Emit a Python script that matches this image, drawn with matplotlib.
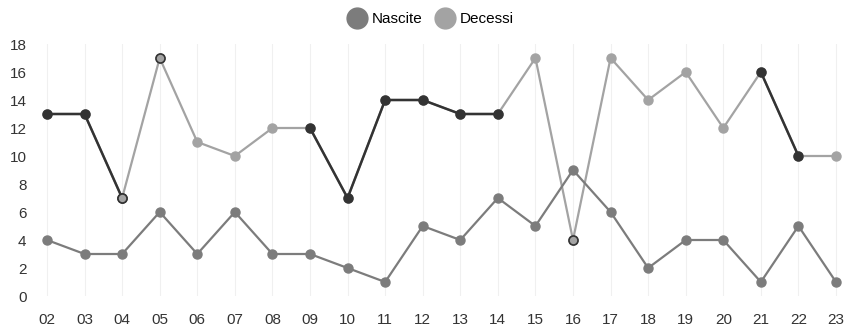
import numpy as np
import matplotlib
matplotlib.use("Agg")
import matplotlib.pyplot as plt
from matplotlib.lines import Line2D

plt.rcParams['font.family'] = ['Liberation Sans', 'DejaVu Sans']

# data
labels = ["02", "03", "04", "05", "06", "07", "08", "09", "10", "11", "12",
          "13", "14", "15", "16", "17", "18", "19", "20", "21", "22", "23"]
nascite = [4, 3, 3, 6, 3, 6, 3, 3, 2, 1, 5, 4, 7, 5, 9, 6, 2, 4, 4, 1, 5, 1]
decessi = [13, 13, 7, 17, 11, 10, 12, 12, 7, 14, 14, 13, 13, 17, 4, 17, 14, 16, 12, 16, 10, 10]
# stretches of the Decessi line that came out dark in the print (start, end index)
dark_runs = [(0, 2), (7, 12), (19, 20)]
dark_points = [2, 3, 14]

c_nasc = "#7c7c7c"
c_dec = "#a3a3a3"
c_dark = "#333333"

fig = plt.figure(figsize=(8.51, 3.31), dpi=100)
ax = fig.add_axes([37.6 / 851, 35 / 331, (845.4 - 37.6) / 851, (296 - 44) / 331])

x = np.arange(len(labels))
ax.plot(x, decessi, color=c_dec, lw=1.6, marker="o", ms=6.5, mec=c_dec, mfc=c_dec,
        clip_on=False, zorder=3)
ax.plot(x, nascite, color=c_nasc, lw=1.6, marker="o", ms=6.5, mec=c_nasc, mfc=c_nasc,
        clip_on=False, zorder=3)

for a, b in dark_runs:
    ax.plot(x[a:b + 1], decessi[a:b + 1], color=c_dark, lw=1.8, marker="o", ms=6.5,
            mec=c_dark, mfc=c_dark, clip_on=False, zorder=4)
for i in dark_points:
    ax.plot(x[i], decessi[i], marker="o", ms=6.5, mec=c_dark, mfc=c_dec,
            mew=1.2, clip_on=False, zorder=5)

ax.set_xlim(-0.25, len(labels) - 0.75)
ax.set_ylim(0, 18)
ax.set_yticks(range(0, 19, 2))
ax.set_xticks(x)
ax.set_xticklabels(labels)
ax.tick_params(length=0, labelsize=11, colors="#333333")
ax.tick_params(axis="y", pad=8)
ax.tick_params(axis="x", pad=12)
ax.grid(axis="x", color="#f0f0f0", lw=0.8)
for s in ax.spines.values():
    s.set_visible(False)

handles = [Line2D([], [], ls="none", marker="o", ms=15, color=c_nasc),
           Line2D([], [], ls="none", marker="o", ms=15, color=c_dec)]
fig.legend(handles, ["Nascite", "Decessi"], loc="center", bbox_to_anchor=(0.505, 1 - 19 / 331),
           ncol=2, frameon=False, fontsize=11, handletextpad=0.25, columnspacing=0.7,
           handlelength=1.5)

fig.savefig("out.png", dpi=100)
